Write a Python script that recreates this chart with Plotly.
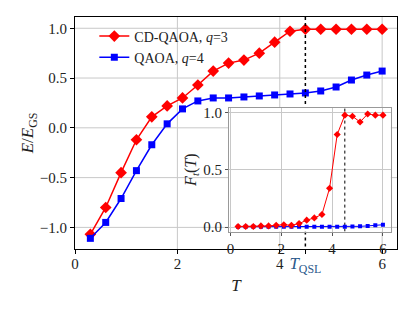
import plotly.graph_objects as go

# ---- data ----
T = [0.3, 0.6, 0.9, 1.2, 1.5, 1.8, 2.1, 2.4, 2.7, 3.0,
     3.3, 3.6, 3.9, 4.2, 4.5, 4.8, 5.1, 5.4, 5.7, 6.0]
cd_qaoa_E = [-1.07, -0.80, -0.45, -0.12, 0.11, 0.22, 0.30, 0.43, 0.57, 0.65,
             0.68, 0.75, 0.86, 0.97, 0.99, 0.99, 0.99, 0.99, 0.99, 0.99]
qaoa_E = [-1.11, -0.95, -0.71, -0.43, -0.17, 0.04, 0.19, 0.27, 0.30, 0.30,
          0.31, 0.32, 0.33, 0.34, 0.35, 0.37, 0.41, 0.48, 0.53, 0.57]
cd_qaoa_F = [0.005, 0.005, 0.005, 0.01, 0.01, 0.015, 0.02, 0.015, 0.03, 0.06,
             0.08, 0.11, 0.34, 0.81, 0.98, 0.97, 0.92, 0.99, 0.98, 0.98]
qaoa_F = [0.003, 0.003, 0.003, 0.003, 0.003, 0.003, 0.003, 0.003, 0.003, 0.003,
          0.003, 0.003, 0.003, 0.003, 0.003, 0.004, 0.006, 0.01, 0.015, 0.02]
T_QSL = 4.5
main_xticks = [0, 2, 4, 6]
main_yticks = [-1.0, -0.5, 0.0, 0.5, 1.0]
inset_xticks = [0, 2, 4, 6]
inset_yticks = [0.0, 0.5, 1.0]

MAIN_XR = [0, 6.29]
MAIN_YR = [-1.217, 1.113]
INSET_XR = [-0.06, 6.3]
INSET_YR = [-0.04, 1.045]
INSET_XDOM = [0.478, 0.980]
INSET_YDOM = [0.075, 0.609]

RED = "#ff0000"
BLUE = "#0000ff"
GRID = "#c8c8c8"
FONT = "Liberation Serif"
QSL_COLOR = "#2b5a8c"

# inset box expressed in main-axis data units (used to keep main lines out of it)
ix0 = MAIN_XR[0] + INSET_XDOM[0] * (MAIN_XR[1] - MAIN_XR[0])
ix1 = MAIN_XR[0] + INSET_XDOM[1] * (MAIN_XR[1] - MAIN_XR[0])
iy0 = MAIN_YR[0] + INSET_YDOM[0] * (MAIN_YR[1] - MAIN_YR[0])
iy1 = MAIN_YR[0] + INSET_YDOM[1] * (MAIN_YR[1] - MAIN_YR[0])

fig = go.Figure()

fig.add_trace(go.Scatter(x=T, y=cd_qaoa_E, mode="lines+markers",
                         name="CD-QAOA, <i>q</i>=3",
                         line=dict(color=RED, width=1.5),
                         marker=dict(symbol="diamond", size=9, color=RED),
                         xaxis="x", yaxis="y"))
fig.add_trace(go.Scatter(x=T, y=qaoa_E, mode="lines+markers",
                         name="QAOA, <i>q</i>=4",
                         line=dict(color=BLUE, width=1.5),
                         marker=dict(symbol="square", size=7, color=BLUE),
                         xaxis="x", yaxis="y"))
# main T_QSL line, interrupted by the inset
fig.add_trace(go.Scatter(x=[T_QSL, T_QSL, None, T_QSL, T_QSL],
                         y=[MAIN_YR[1], iy1, None, iy0, MAIN_YR[0]],
                         mode="lines", showlegend=False, connectgaps=False,
                         line=dict(color="black", width=1.5, dash="dot"),
                         hoverinfo="skip", xaxis="x", yaxis="y"))
# inset traces
fig.add_trace(go.Scatter(x=[T_QSL, T_QSL], y=INSET_YR, mode="lines", showlegend=False,
                         line=dict(color="black", width=1, dash="dot"),
                         hoverinfo="skip", xaxis="x2", yaxis="y2"))
fig.add_trace(go.Scatter(x=T, y=qaoa_F, mode="lines+markers", showlegend=False,
                         line=dict(color=BLUE, width=1),
                         marker=dict(symbol="square", size=4, color=BLUE),
                         xaxis="x2", yaxis="y2"))
fig.add_trace(go.Scatter(x=T, y=cd_qaoa_F, mode="lines+markers", showlegend=False,
                         line=dict(color=RED, width=1),
                         marker=dict(symbol="diamond", size=5.5, color=RED),
                         xaxis="x2", yaxis="y2"))

# main grid lines drawn as shapes so they stop at the inset
for xv in main_xticks[1:]:
    fig.add_shape(type="line", xref="x", yref="y", x0=xv, x1=xv,
                  y0=MAIN_YR[0], y1=MAIN_YR[1], line=dict(color=GRID, width=1),
                  layer="below")
for yv in main_yticks:
    if iy0 <= yv <= iy1:
        segs = [(MAIN_XR[0], ix0), (ix1, MAIN_XR[1])]
    else:
        segs = [(MAIN_XR[0], MAIN_XR[1])]
    for a, b in segs:
        fig.add_shape(type="line", xref="x", yref="y", x0=a, x1=b, y0=yv, y1=yv,
                      line=dict(color=GRID, width=1), layer="below")

tickfont = dict(family=FONT, size=15, color="#222")
main_xtext = [str(v) for v in main_xticks] + [
    f"<span style='color:{QSL_COLOR};font-size:17px'><i>T</i><sub>QSL</sub></span>"]

fig.update_layout(
    template="none",
    width=415, height=311,
    margin=dict(l=75, r=18, t=17, b=62),
    paper_bgcolor="white", plot_bgcolor="white",
    font=dict(family=FONT, size=15, color="#222"),
    showlegend=True,
    legend=dict(x=0.06, y=0.985, xanchor="left", yanchor="top",
                bgcolor="rgba(255,255,255,0)", borderwidth=0,
                font=dict(family=FONT, size=14, color="#222"),
                itemwidth=30, tracegroupgap=0),
    xaxis=dict(domain=[0, 1], range=MAIN_XR, automargin=False,
               tickvals=main_xticks + [T_QSL], ticktext=main_xtext,
               ticks="outside", ticklen=4, tickcolor="black",
               ticklabelstandoff=-3,
               showgrid=False, zeroline=False,
               showline=True, linecolor="black", linewidth=1.2, mirror=True,
               tickfont=tickfont,
               title=dict(text="<i>T</i>", font=dict(family=FONT, size=17), standoff=4)),
    yaxis=dict(domain=[0, 1], range=MAIN_YR, automargin=False,
               tickvals=main_yticks, ticktext=["−1.0", "−0.5", "0.0", "0.5", "1.0"],
               ticks="outside", ticklen=4, tickcolor="black",
               showgrid=False, zeroline=False,
               showline=True, linecolor="black", linewidth=1.2, mirror=True,
               tickfont=tickfont,
               title=dict(text="<i>E</i>/<i>E</i><sub>GS</sub>",
                          font=dict(family=FONT, size=17), standoff=1)),
    xaxis2=dict(domain=INSET_XDOM, anchor="y2", range=INSET_XR, automargin=False,
                tickvals=inset_xticks, ticks="outside", ticklen=3, tickcolor="#555",
                showgrid=True, gridcolor=GRID, gridwidth=1, zeroline=False,
                showline=True, linecolor="#999", linewidth=1, mirror=True,
                tickfont=tickfont),
    yaxis2=dict(domain=INSET_YDOM, anchor="x2", range=INSET_YR, automargin=False,
                tickvals=inset_yticks, ticktext=["0.0", "0.5", "1.0"],
                ticks="outside", ticklen=3, tickcolor="#555",
                showgrid=True, gridcolor=GRID, gridwidth=1, zeroline=False,
                showline=True, linecolor="#999", linewidth=1, mirror=True,
                tickfont=tickfont,
                title=dict(text="<i>F</i><sub><i>t</i></sub>(<i>T</i>)",
                           font=dict(family=FONT, size=16), standoff=2)),
)

fig.write_html("out.html", config={"displayModeBar": False},
               post_script="document.body.style.margin='0';document.body.style.overflow='hidden';")
